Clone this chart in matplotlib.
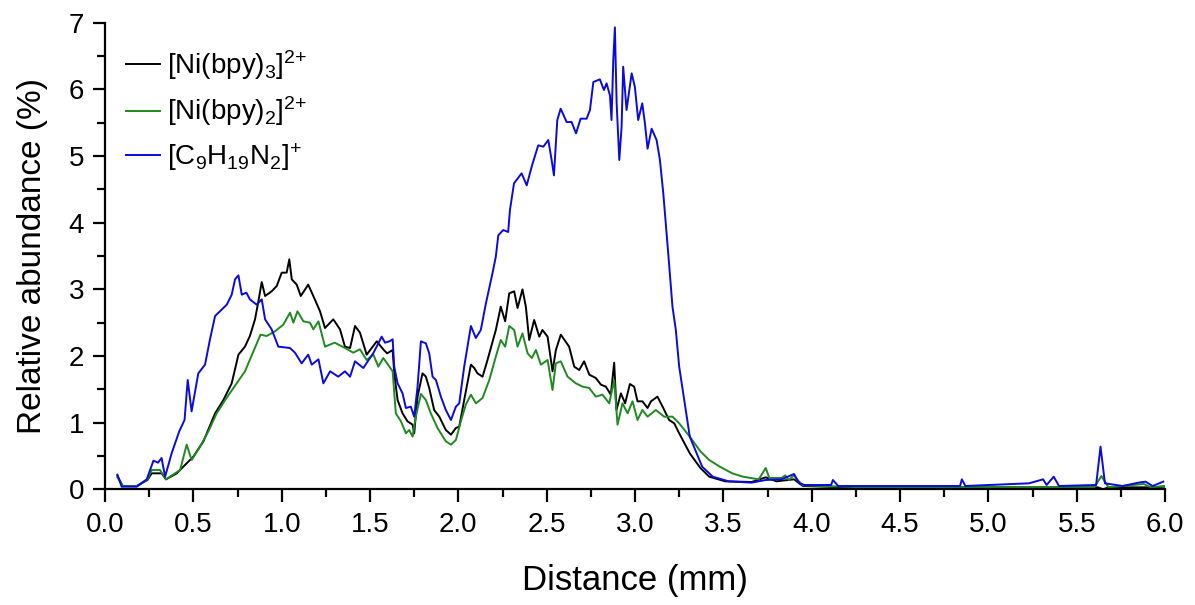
import matplotlib
matplotlib.use("Agg")
import matplotlib.pyplot as plt
from matplotlib.ticker import MultipleLocator, FormatStrFormatter

plt.rcParams['font.family'] = ['Liberation Sans', 'DejaVu Sans']
plt.rcParams['mathtext.fontset'] = 'custom'
plt.rcParams['mathtext.rm'] = 'Liberation Sans'
plt.rcParams['mathtext.it'] = 'Liberation Sans'
plt.rcParams['mathtext.default'] = 'regular'

labels = [r'[Ni(bpy)$_3$]$^{2{+}}$', r'[Ni(bpy)$_2$]$^{2{+}}$', r'[C$_9$H$_{19}$N$_2$]$^{+}$']
colors = ['#000000', '#1f8a1f', '#0a0ae0']

# [Ni(bpy)3]2+
x_ni3 = [0.07, 0.10, 0.18, 0.24, 0.264, 0.32, 0.345, 0.406, 0.462, 0.50, 0.557, 0.623, 0.67,
         0.717, 0.755, 0.792, 0.82, 0.849, 0.868, 0.887, 0.906, 0.943, 0.972, 1.0, 1.028, 1.043,
         1.057, 1.085, 1.108, 1.15, 1.179, 1.217, 1.245, 1.292, 1.33, 1.358, 1.387, 1.415, 1.443,
         1.481, 1.538, 1.578, 1.597, 1.628, 1.637, 1.656, 1.684, 1.712, 1.741, 1.75, 1.769, 1.797,
         1.816, 1.835, 1.863, 1.892, 1.929, 1.958, 1.986, 2.005, 2.033, 2.071, 2.09, 2.108, 2.137,
         2.165, 2.212, 2.24, 2.265, 2.288, 2.316, 2.335, 2.363, 2.382, 2.401, 2.429, 2.458, 2.476,
         2.505, 2.533, 2.552, 2.58, 2.627, 2.656, 2.684, 2.712, 2.741, 2.778, 2.807, 2.835, 2.863,
         2.882, 2.895, 2.92, 2.944, 2.971, 2.995, 3.014, 3.042, 3.071, 3.09, 3.127, 3.156, 3.193,
         3.222, 3.25, 3.31, 3.37, 3.42, 3.51, 3.66, 3.74, 3.80, 3.90, 3.95, 4.2, 4.6, 5.0, 5.4,
         5.62, 5.65, 5.68, 5.9, 6.0]
y_ni3 = [0.20, 0.05, 0.05, 0.14, 0.24, 0.24, 0.15, 0.24, 0.39, 0.49, 0.72, 1.14, 1.34,
         1.59, 2.02, 2.14, 2.30, 2.55, 2.82, 3.11, 2.90, 2.97, 3.05, 3.25, 3.25, 3.45,
         3.15, 3.07, 2.90, 3.07, 2.90, 2.67, 2.42, 2.55, 2.40, 2.14, 2.12, 2.45, 2.35,
         2.02, 2.22, 2.09, 2.04, 2.09, 1.74, 1.34, 1.14, 1.02, 0.97, 0.84, 1.39, 1.74,
         1.69, 1.52, 1.19, 1.09, 0.89, 0.82, 0.92, 0.94, 1.34, 1.87, 1.82, 1.74, 1.69,
         1.94, 2.39, 2.74, 2.52, 2.94, 2.97, 2.72, 3.00, 2.74, 2.24, 2.54, 2.29, 2.39,
         2.29, 1.77, 2.09, 2.32, 2.14, 1.84, 1.79, 1.92, 1.72, 1.67, 1.57, 1.54, 1.42,
         1.90, 1.19, 1.44, 1.29, 1.58, 1.54, 1.32, 1.32, 1.22, 1.32, 1.39, 1.24, 1.04,
         0.99, 0.84, 0.54, 0.32, 0.19, 0.12, 0.11, 0.18, 0.12, 0.15, 0.05, 0.03, 0.03, 0.03, 0.03,
         0.03, 0.0, 0.03, 0.03, 0.04]

# [Ni(bpy)2]2+
x_ni2 = [0.07, 0.10, 0.18, 0.24, 0.264, 0.311, 0.345, 0.425, 0.462, 0.49, 0.538, 0.585, 0.632,
         0.68, 0.745, 0.792, 0.84, 0.88, 0.915, 0.962, 1.009, 1.047, 1.066, 1.089, 1.123, 1.16,
         1.179, 1.208, 1.245, 1.30, 1.358, 1.405, 1.443, 1.481, 1.519, 1.547, 1.575, 1.628,
         1.646, 1.675, 1.703, 1.722, 1.741, 1.759, 1.788, 1.816, 1.844, 1.882, 1.929, 1.958,
         1.986, 2.014, 2.042, 2.071, 2.099, 2.137, 2.175, 2.212, 2.24, 2.265, 2.288, 2.316,
         2.335, 2.363, 2.392, 2.416, 2.439, 2.467, 2.505, 2.533, 2.552, 2.58, 2.618, 2.665,
         2.703, 2.741, 2.778, 2.816, 2.854, 2.882, 2.901, 2.929, 2.958, 2.986, 3.014, 3.042,
         3.071, 3.118, 3.165, 3.212, 3.25, 3.31, 3.37, 3.42, 3.48, 3.55, 3.61, 3.70, 3.74,
         3.76, 3.83, 3.85, 3.87, 3.90, 3.92, 3.95, 4.3, 4.8, 5.3, 5.60, 5.64, 5.68, 5.88, 5.92, 6.0]
y_ni2 = [0.18, 0.05, 0.05, 0.15, 0.29, 0.29, 0.15, 0.29, 0.67, 0.44, 0.64, 0.87, 1.14,
         1.34, 1.59, 1.77, 2.07, 2.32, 2.30, 2.37, 2.47, 2.65, 2.50, 2.67, 2.52, 2.50,
         2.40, 2.52, 2.14, 2.20, 2.12, 2.05, 2.10, 1.94, 2.02, 1.84, 1.97, 1.77,
         1.14, 1.02, 0.84, 0.89, 0.79, 1.09, 1.43, 1.34, 1.14, 0.92, 0.72, 0.67,
         0.74, 1.02, 1.27, 1.42, 1.29, 1.37, 1.64, 1.99, 2.24, 2.14, 2.45, 2.39,
         2.14, 2.34, 2.04, 1.97, 2.09, 1.87, 1.94, 1.49, 1.89, 1.92, 1.69, 1.59,
         1.54, 1.52, 1.39, 1.42, 1.29, 1.64, 0.97, 1.29, 1.14, 1.32, 1.04, 1.19,
         1.09, 1.19, 1.09, 1.09, 0.99, 0.79, 0.57, 0.44, 0.34, 0.24, 0.19, 0.15, 0.32,
         0.17, 0.17, 0.21, 0.14, 0.21, 0.14, 0.06, 0.03, 0.03, 0.03, 0.03, 0.20, 0.03, 0.08, 0.03, 0.05]

# [C9H19N2]+
x_c9 = [0.07, 0.094, 0.18, 0.236, 0.274, 0.30, 0.32, 0.34, 0.377, 0.42, 0.45, 0.468, 0.49,
        0.528, 0.566, 0.594, 0.623, 0.689, 0.717, 0.736, 0.755, 0.774, 0.80, 0.82, 0.858,
        0.887, 0.906, 0.943, 0.981, 1.047, 1.075, 1.113, 1.15, 1.17, 1.208, 1.236, 1.274,
        1.32, 1.358, 1.387, 1.415, 1.462, 1.52, 1.566, 1.585, 1.61, 1.628, 1.637, 1.656,
        1.684, 1.703, 1.731, 1.75, 1.769, 1.788, 1.816, 1.835, 1.854, 1.873, 1.901, 1.929,
        1.958, 1.986, 2.005, 2.033, 2.071, 2.099, 2.127, 2.156, 2.193, 2.212, 2.226, 2.254,
        2.282, 2.292, 2.315, 2.358, 2.387, 2.415, 2.452, 2.481, 2.509, 2.528, 2.541, 2.56,
        2.579, 2.613, 2.641, 2.666, 2.692, 2.726, 2.745, 2.764, 2.801, 2.824, 2.839, 2.858,
        2.867, 2.877, 2.886, 2.896, 2.911, 2.924, 2.933, 2.952, 2.981, 2.999, 3.018, 3.041,
        3.056, 3.071, 3.094, 3.122, 3.141, 3.160, 3.188, 3.212, 3.231, 3.25, 3.31, 3.38,
        3.44, 3.53, 3.66, 3.74, 3.83, 3.90, 3.93, 3.96, 4.11, 4.12, 4.15, 4.5, 4.84, 4.85,
        4.87, 5.23, 5.31, 5.33, 5.37, 5.40, 5.61, 5.635, 5.66, 5.76, 5.85, 5.89, 5.93, 5.99]
y_c9 = [0.22, 0.04, 0.04, 0.15, 0.43, 0.40, 0.47, 0.19, 0.54, 0.87, 1.04, 1.64, 1.17,
        1.74, 1.87, 2.25, 2.60, 2.77, 2.92, 3.15, 3.21, 2.92, 2.95, 2.85, 2.77,
        2.85, 2.55, 2.40, 2.14, 2.12, 2.05, 1.89, 2.02, 1.87, 1.95, 1.59, 1.77,
        1.69, 1.77, 1.69, 1.92, 1.82, 2.05, 2.29, 2.20, 2.22, 2.25, 1.84, 1.59,
        1.44, 1.22, 1.24, 1.09, 1.54, 2.22, 2.19, 2.04, 1.69, 1.64, 1.39, 1.19,
        1.04, 1.24, 1.29, 1.84, 2.45, 2.27, 2.39, 2.79, 3.24, 3.49, 3.81, 3.89,
        3.86, 4.19, 4.59, 4.74, 4.56, 4.84, 5.16, 5.14, 5.24, 4.94, 4.71, 5.54,
        5.71, 5.51, 5.51, 5.34, 5.56, 5.56, 5.69, 6.11, 6.15, 5.99, 6.09, 5.91,
        5.54, 6.44, 6.93, 5.79, 4.94, 5.44, 6.34, 5.69, 6.24, 6.04, 5.54, 5.79,
        5.49, 5.11, 5.41, 5.24, 4.94, 4.44, 3.54, 2.74, 2.39, 1.84, 0.79, 0.34,
        0.19, 0.12, 0.10, 0.14, 0.15, 0.23, 0.09, 0.065, 0.065, 0.14, 0.05, 0.05, 0.05, 0.15,
        0.05, 0.09, 0.15, 0.065, 0.19, 0.05, 0.065, 0.64, 0.09, 0.05, 0.10, 0.115, 0.05, 0.115]

xs = [x_ni3, x_ni2, x_c9]
ys = [y_ni3, y_ni2, y_c9]

fig = plt.figure(figsize=(11.95, 6.05), dpi=100)
ax = fig.add_axes([0.0879, 0.1912, 0.8870, 0.7713])

for x, y, c, lab in zip(xs, ys, colors, labels):
    ax.plot(x, y, color=c, lw=1.4, label=lab)

ax.set_xlim(0, 6)
ax.set_ylim(0, 7)
ax.xaxis.set_major_locator(MultipleLocator(0.5))
ax.xaxis.set_minor_locator(MultipleLocator(0.25))
ax.xaxis.set_major_formatter(FormatStrFormatter('%.1f'))
ax.yaxis.set_major_locator(MultipleLocator(1))
ax.yaxis.set_minor_locator(MultipleLocator(0.5))

for s in ['top', 'right']:
    ax.spines[s].set_visible(False)
for s in ['left', 'bottom']:
    ax.spines[s].set_linewidth(1.6)

ax.tick_params(which='major', direction='out', length=9, width=1.6, labelsize=20)
ax.tick_params(axis='x', which='major', pad=7)
ax.tick_params(axis='y', which='major', pad=6)
ax.tick_params(which='minor', direction='out', length=5.5, width=1.6)

ax.set_xlabel('Distance (mm)', fontsize=25, labelpad=19)
ax.set_ylabel('Relative abundance (%)', fontsize=24, labelpad=15)

leg = ax.legend(loc='upper left', bbox_to_anchor=(0.02, 0.945), frameon=False, fontsize=20,
                handlelength=1.2, handletextpad=0.27, labelspacing=0.45, borderpad=0,
                borderaxespad=0)

fig.savefig('out.png', dpi=100)
